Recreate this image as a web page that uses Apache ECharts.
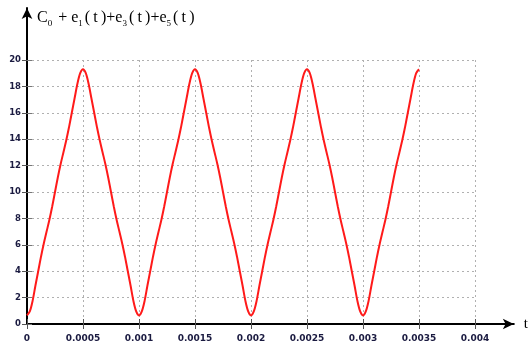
<!DOCTYPE html>
<html>
<head>
<meta charset="utf-8">
<style>html,body{margin:0;padding:0;background:#fff}#c{width:531px;height:343px}</style>
<script src="https://cdn.jsdelivr.net/npm/echarts@6/dist/echarts.min.js"></script>
</head>
<body>
<div id="c"></div>
<script>
// sample step of the curve (seconds)
const tStep = 0.000025;
// values, one per sample (0 .. 0.0035)
const period1 = [0.65,0.95,1.75,2.9,4.0,5.1,6.1,7.0,7.9,8.9,10.0,11.1,12.1,13.0,13.9,14.9,16.0,17.1,18.2,19.0,19.3,
                 19.0,18.2,17.1,16.0,14.9,13.9,13.0,12.1,11.1,10.0,8.9,7.9,7.0,6.1,5.1,4.0,2.9,1.75,0.95];
const period2 = [0.65,0.95,1.75,2.9,4.0,5.1,6.1,7.0,7.9,8.9,10.0,11.1,12.1,13.0,13.9,14.9,16.0,17.1,18.2,19.0,19.3,
                 19.0,18.2,17.1,16.0,14.9,13.9,13.0,12.1,11.1,10.0,8.9,7.9,7.0,6.1,5.1,4.0,2.9,1.75,0.95];
const period3 = [0.65,0.95,1.75,2.9,4.0,5.1,6.1,7.0,7.9,8.9,10.0,11.1,12.1,13.0,13.9,14.9,16.0,17.1,18.2,19.0,19.3,
                 19.0,18.2,17.1,16.0,14.9,13.9,13.0,12.1,11.1,10.0,8.9,7.9,7.0,6.1,5.1,4.0,2.9,1.75,0.95];
const period4half = [0.65,0.95,1.75,2.9,4.0,5.1,6.1,7.0,7.9,8.9,10.0,11.1,12.1,13.0,13.9,14.9,16.0,17.1,18.2,19.0,19.3];
const xTicks = [0,0.0005,0.001,0.0015,0.002,0.0025,0.003,0.0035,0.004];
const yTicks = [0,2,4,6,8,10,12,14,16,18,20];

const values = period1.concat(period2, period3, period4half);
const seriesData = values.map((v, i) => [i * tStep, v]);

const labelColor = '#1a1a40';
const labelFont = { fontFamily: 'DejaVu Sans', fontWeight: 'bold', fontSize: 8.5, color: labelColor };
const gridLine = { show: true, lineStyle: { color: '#b0b0b0', type: [2, 3], width: 1 } };

const chart = echarts.init(document.getElementById('c'), null, { renderer: 'canvas' });
chart.setOption({
  animation: false,
  backgroundColor: '#fff',
  title: {
    text: '{n|C}{s|0}{n| + e}{s|1}{n|(\u2009t\u2009)+e}{s|3}{n|(\u2009t\u2009)+e}{s|5}{n|(\u2009t\u2009)}',
    left: 37, top: 8, padding: 0,
    textStyle: {
      fontWeight: 'normal',
      rich: {
        n: { fontFamily: 'Liberation Serif', fontSize: 16, fontWeight: 'normal', color: '#000', verticalAlign: 'bottom', lineHeight: 18 },
        s: { fontFamily: 'Liberation Serif', fontSize: 9, fontWeight: 'normal', color: '#000', verticalAlign: 'bottom', lineHeight: 14, padding: [0, 2, -2, 0] }
      }
    }
  },
  grid: [
    { left: 27, right: 56, top: 60, bottom: 19, containLabel: false },
    { left: 27, right: 6, top: 8, bottom: 19, containLabel: false }
  ],
  xAxis: [
    {
      gridIndex: 0, type: 'value', min: xTicks[0], max: xTicks[xTicks.length - 1], interval: 0.0005,
      axisLine: { show: false },
      axisTick: { show: true, inside: true, length: 5, lineStyle: { color: '#555' } },
      axisLabel: Object.assign({ margin: 10, formatter: v => String(+v.toFixed(4)) }, labelFont, { fontSize: 9 }),
      splitLine: gridLine
    },
    {
      gridIndex: 0, type: 'value', position: 'top', min: xTicks[0], max: xTicks[xTicks.length - 1], interval: 0.0005,
      axisLine: { show: false },
      axisTick: { show: true, inside: true, length: 5, lineStyle: { color: '#555' } },
      axisLabel: { show: false }, splitLine: { show: false }
    },
    {
      gridIndex: 1, type: 'value', min: 0, max: 1,
      axisLine: { show: true, symbol: ['none', 'arrow'], symbolSize: [8, 11], lineStyle: { color: '#000', width: 2 } },
      axisTick: { show: false }, axisLabel: { show: false }, splitLine: { show: false },
      name: 't', nameLocation: 'end', nameGap: 10,
      nameTextStyle: { fontFamily: 'Liberation Serif', fontSize: 15, color: '#000', verticalAlign: 'middle' }
    }
  ],
  yAxis: [
    {
      gridIndex: 0, type: 'value', min: yTicks[0], max: yTicks[yTicks.length - 1], interval: 2,
      axisLine: { show: false },
      axisTick: { show: true, inside: true, length: 5, lineStyle: { color: '#777' } },
      axisLabel: Object.assign({ margin: 6 }, labelFont),
      splitLine: gridLine
    },
    {
      gridIndex: 0, type: 'value', position: 'right', min: yTicks[0], max: yTicks[yTicks.length - 1], interval: 2,
      axisLine: { show: false },
      axisTick: { show: true, inside: true, length: 5, lineStyle: { color: '#555' } },
      axisLabel: { show: false }, splitLine: { show: false }
    },
    {
      gridIndex: 1, type: 'value', min: 0, max: 1,
      axisLine: { show: true, symbol: ['none', 'arrow'], symbolSize: [8, 11], lineStyle: { color: '#000', width: 2 } },
      axisTick: { show: false }, axisLabel: { show: false }, splitLine: { show: false }
    }
  ],
  series: [{
    type: 'line', xAxisIndex: 0, yAxisIndex: 0,
    data: seriesData, smooth: 0.3, showSymbol: false,
    lineStyle: { color: '#ff1a1a', width: 2 }
  }]
});
</script>
</body>
</html>
